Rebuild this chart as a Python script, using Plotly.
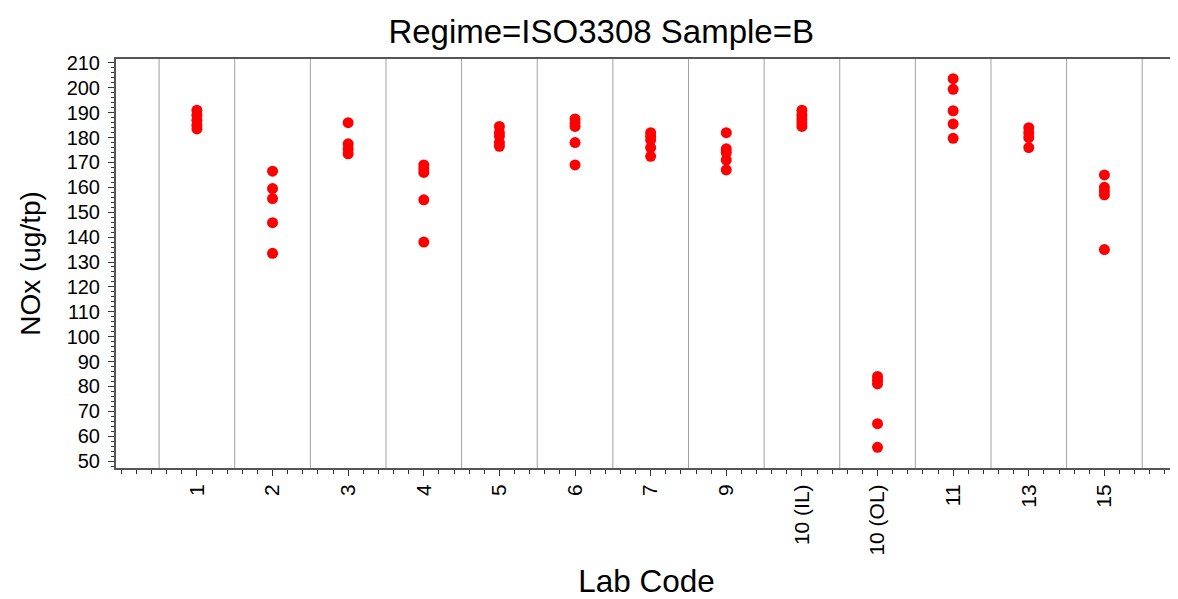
import plotly.graph_objects as go

categories = ["1", "2", "3", "4", "5", "6", "7", "9", "10 (IL)", "10 (OL)", "11", "13", "15"]
values = [
    [191, 189, 187, 185, 183.5],
    [166.5, 159.5, 155.5, 145.8, 133.5],
    [186, 177.5, 175.5, 173.5],
    [169, 167.5, 166, 155, 138],
    [184.5, 182, 180.5, 178, 176.5],
    [187.5, 186, 184.5, 178, 169],
    [182, 180.5, 179, 176, 172.5],
    [182, 175.5, 174, 171, 167],
    [191, 189, 187.5, 186, 184.5],
    [84, 82.5, 81, 65, 55.5],
    [203.7, 199.4, 190.8, 185.5, 179.7],
    [184, 182, 180, 176],
    [165, 160, 158.5, 157, 135],
]
y_ticks = list(range(50, 211, 10))

xs, ys = [], []
for i, vals in enumerate(values):
    for v in vals:
        xs.append(i)
        ys.append(v)

fig = go.Figure()
fig.add_trace(go.Scatter(
    x=xs, y=ys, mode="markers",
    marker=dict(color="#FF0000", size=11, line=dict(width=0)),
    showlegend=False, hoverinfo="y",
))

n = len(categories)
for i in range(n + 1):
    fig.add_shape(type="line", xref="x", yref="paper",
                  x0=i - 0.5, x1=i - 0.5, y0=0, y1=1,
                  line=dict(color="#a0a0a0", width=1), layer="below")

font_family = "Liberation Sans, Arial, sans-serif"
fig.update_layout(
    width=1170, height=591,
    margin=dict(l=108, r=1, t=51, b=131),
    paper_bgcolor="white", plot_bgcolor="white",
    font=dict(family=font_family, color="black"),
    title=dict(text="Regime=ISO3308 Sample=B", x=0.507, xanchor="center",
               y=0.961, yanchor="middle", font=dict(size=33, color="black")),
)
fig.update_xaxes(
    range=[-1.07, 12.96],
    tickmode="array", tickvals=list(range(n)), ticktext=categories,
    tickangle=-90, tickfont=dict(size=21),
    ticks="outside", ticklen=6, tickcolor="#333333",
    minor=dict(dtick=0.2, tick0=0, ticks="outside", ticklen=4, tickcolor="#333333", showgrid=False),
    showgrid=False, zeroline=False,
    showline=True, linecolor="#555555", linewidth=2, mirror=True,
    title=dict(text="Lab Code", font=dict(size=31.5), standoff=20),
)
fig.update_yaxes(
    range=[47.2, 211.6],
    tickmode="array", tickvals=y_ticks, ticktext=[str(t) for t in y_ticks],
    tickfont=dict(size=20),
    ticks="outside", ticklen=6, tickcolor="#333333",
    ticklabelstandoff=4,
    minor=dict(dtick=2, tick0=50, ticks="outside", ticklen=3, tickcolor="#333333", showgrid=False),
    showgrid=False, zeroline=False,
    showline=True, linecolor="#555555", linewidth=2, mirror=False,
    title=dict(text="NOx (ug/tp)", font=dict(size=28), standoff=18),
)
fig.write_html("out.html")
